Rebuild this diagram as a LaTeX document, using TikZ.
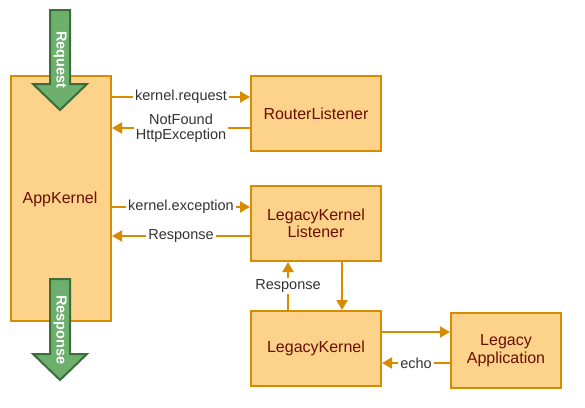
\documentclass[tikz,border=0pt]{standalone}
\usepackage{fontspec}
\setmainfont{Liberation Sans}
\usetikzlibrary{arrows.meta}
\definecolor{boxfill}{HTML}{FDD28A}
\definecolor{boxline}{HTML}{D98B00}
\definecolor{gfill}{HTML}{6DAF6D}
\definecolor{gline}{HTML}{3C6E3C}
\definecolor{ntext}{HTML}{6A0F00}
\definecolor{ltext}{HTML}{333333}
\tikzset{
  box/.style={draw=boxline, fill=boxfill, line width=2pt, inner sep=0pt, anchor=north west,
    text=ntext, font=\fontsize{16}{17.5}\selectfont, align=center},
  conn/.style={draw=boxline, line width=2pt, -{Triangle[length=10pt,width=11pt]}},
  lbl/.style={fill=white, text=ltext, font=\fontsize{14.5}{16}\selectfont, inner sep=2pt, align=center},
  garrow/.style={draw=gline, fill=gfill, line width=2pt, line join=miter},
  gtext/.style={text=white, font=\bfseries\fontsize{14.5}{16}\selectfont, rotate=-90, inner sep=0pt}
}
\begin{document}
\begin{tikzpicture}[x=1pt,y=-1pt]
\useasboundingbox (0,0) rectangle (585,407);
% boxes
\node[box, minimum width=100pt, minimum height=245pt] (app) at (10,75) {};
\node[text=ntext, font=\fontsize{16}{17.5}\selectfont] (applbl) at (60,199) {AppKernel};
\node[box, minimum width=130pt, minimum height=75pt] (router) at (250,75) {RouterListener};
\node[box, minimum width=130pt, minimum height=75pt] (lkl) at (250,185) {LegacyKernel\\Listener};
\node[box, minimum width=130pt, minimum height=75pt] (lk) at (250,310) {LegacyKernel};
\node[box, minimum width=110pt, minimum height=75pt] (la) at (450,312) {Legacy\\Application};
% green arrows
\draw[garrow] (50,10) -- (70,10) -- (70,84) -- (87,84) -- (60,110) -- (33,84) -- (50,84) -- cycle;
\node[gtext] (req) at (60,60) {Request};
\draw[garrow] (50,279) -- (70,279) -- (70,354) -- (87,354) -- (60,380) -- (33,354) -- (50,354) -- cycle;
\node[gtext] (resp) at (60,330) {Response};
% helper coordinates
\coordinate (y1) at (0,97);
\coordinate (y2) at (0,128);
\coordinate (y3) at (0,207);
\coordinate (y4) at (0,236);
\coordinate (y5) at (0,332);
\coordinate (y6) at (0,363);
\coordinate (x1) at (288,0);
\coordinate (x2) at (342,0);
% connectors
\draw[conn] (app.east |- y1) -- node[lbl] {kernel.request} (router.west |- y1);
\draw[conn] (router.west |- y2) -- node[lbl, font=\fontsize{14.5}{15.5}\selectfont] {NotFound\\HttpException} (app.east |- y2);
\draw[conn] (app.east |- y3) -- node[lbl] {kernel.exception} (lkl.west |- y3);
\draw[conn] (lkl.west |- y4) -- node[lbl] {Response} (app.east |- y4);
\draw[conn] (lk.north -| x1) -- node[lbl] {Response} (lkl.south -| x1);
\draw[conn] (lkl.south -| x2) -- (lk.north -| x2);
\draw[conn] (lk.east |- y5) -- (la.west |- y5);
\draw[conn] (la.west |- y6) -- node[lbl] {echo} (lk.east |- y6);
\end{tikzpicture}
\end{document}
